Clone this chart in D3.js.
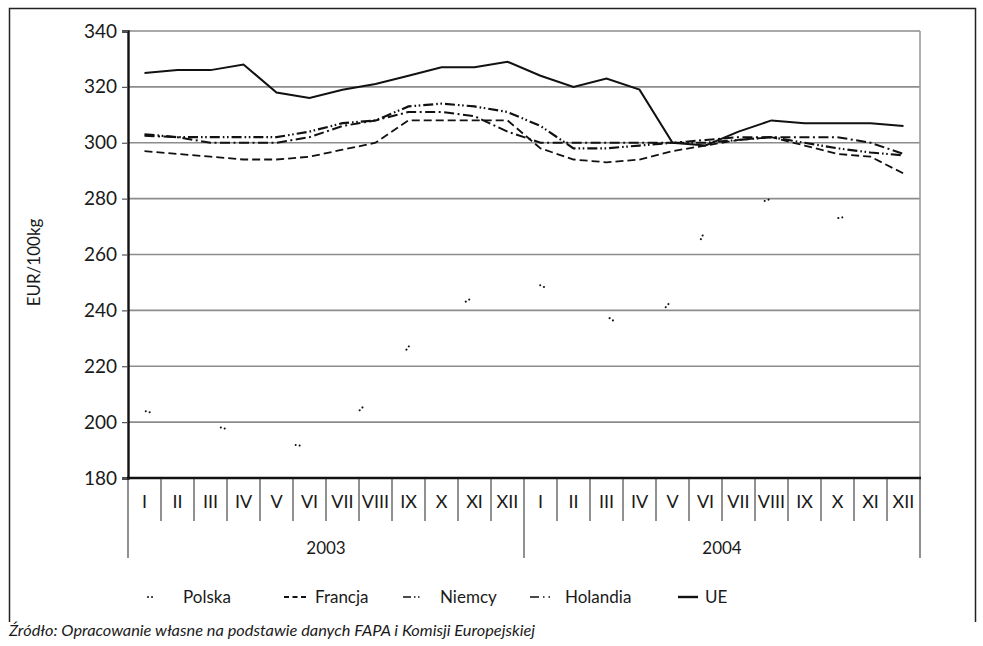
<!DOCTYPE html>
<html>
<head>
<meta charset="utf-8">
<script src="https://cdn.jsdelivr.net/npm/d3@7"></script>
<style>
  html, body { margin: 0; padding: 0; background: #fff; }
  svg { display: block; }
  text { font-family: Lato, "Open Sans", sans-serif; fill: #1a1a1a; }
</style>
</head>
<body>
<svg id="chart" width="983" height="646"></svg>
<script>
// Monthly pork prices, EUR/100kg, 2003-2004
const months = ["I","II","III","IV","V","VI","VII","VIII","IX","X","XI","XII"];
const years = ["2003", "2004"];
const yTicks = [180, 200, 220, 240, 260, 280, 300, 320, 340];

const polska   = [204, 201, 199, 196, 193, 191, 198, 210, 227, 238, 245, 247,
                  249, 243, 238, 230, 244, 269, 276, 280, 277, 273, 275, 275];
const francja  = [297, 296, 295, 294, 294, 295, 297.5, 300, 308, 308, 308, 308,
                  298, 294, 293, 294, 297, 299, 301, 302, 299, 296, 295, 289];
const niemcy   = [303, 302, 302, 302, 302, 304, 307, 308, 313, 314, 313, 311,
                  306, 298, 298, 299, 300, 300, 301, 302, 300, 298, 296.5, 295.5];
const holandia = [302.5, 302, 300, 300, 300, 302, 306, 308, 311, 311, 309.5, 304,
                  300, 300, 300, 300, 300, 301, 302, 302, 302, 302, 300, 296];
const ue       = [325, 326, 326, 328, 318, 316, 319, 321, 324, 327, 327, 329,
                  324, 320, 323, 319, 300, 299, 304, 308, 307, 307, 307, 306];

const series = [
  { name: "Polska",   values: polska,   dash: "0.01,4,0.01,72.84", offset: 75.55, width: 2, cap: "round" },
  { name: "Francja",  values: francja,  dash: "8,4",               offset: 0, width: 1.8, cap: "butt" },
  { name: "Niemcy",   values: niemcy,   dash: "10,3,1.6,2.6,1.6,3", offset: 0, width: 2.2, cap: "butt" },
  { name: "Holandia", values: holandia, dash: "10,3.5,2,3.5",      offset: 0, width: 2, cap: "butt" },
  { name: "UE",       values: ue,       dash: null,                offset: 0, width: 2, cap: "butt" }
];

(function draw() {
  const svg = d3.select("#chart");

  // outer frame
  svg.append("path")
    .attr("d", "M9.5,622 V8.5 H975.5 V622")
    .attr("fill", "none").attr("stroke", "#222").attr("stroke-width", 1.5);

  const pLeft = 128, pRight = 920, pTop = 31, pBottom = 478;
  const cats = d3.range(months.length * years.length);

  const x = d3.scaleBand().domain(cats).range([pLeft, pRight]).paddingInner(0).paddingOuter(0);
  const y = d3.scaleLinear().domain([180, 340]).range([pBottom, pTop]);
  const cx = i => x(i) + x.bandwidth() / 2;

  // horizontal gridlines
  svg.append("g")
    .selectAll("line")
    .data(yTicks.filter(v => v > 180))
    .join("line")
    .attr("x1", pLeft).attr("x2", pRight)
    .attr("y1", d => y(d)).attr("y2", d => y(d))
    .attr("stroke", "#8c8c8c").attr("stroke-width", 1.6);

  // plot area right edge
  svg.append("line")
    .attr("x1", pRight).attr("x2", pRight).attr("y1", pTop).attr("y2", pBottom)
    .attr("stroke", "#9a9a9a").attr("stroke-width", 1.6);

  // y axis
  const yAxis = svg.append("g")
    .attr("transform", `translate(${pLeft},0)`)
    .call(d3.axisLeft(y).tickValues(yTicks).tickSize(6).tickPadding(5).tickFormat(d3.format("d")));
  yAxis.select(".domain").attr("stroke", "#111").attr("stroke-width", 2.4);
  yAxis.selectAll(".tick line").attr("stroke", "#555").attr("stroke-width", 1.2);
  yAxis.selectAll(".tick text")
    .style("font-family", "Lato, sans-serif").style("font-size", "19px").attr("fill", "#1a1a1a");

  // y axis title
  svg.append("text")
    .attr("transform", `translate(40,${(pTop + pBottom) / 2 + 8}) rotate(-90)`)
    .attr("text-anchor", "middle")
    .style("font-size", "17px")
    .text("EUR/100kg");

  // x axis: month and year rows
  const monthRow = 43, yearRow = 80;
  const xg = svg.append("g");
  xg.append("line")
    .attr("x1", pLeft - 1).attr("x2", pRight + 1).attr("y1", pBottom).attr("y2", pBottom)
    .attr("stroke", "#111").attr("stroke-width", 2.6);

  const edge = i => i < cats.length ? x(i) : x(cats.length - 1) + x.bandwidth();
  xg.selectAll("line.sep")
    .data(d3.range(cats.length + 1))
    .join("line")
    .attr("class", "sep")
    .attr("x1", edge).attr("x2", edge)
    .attr("y1", pBottom)
    .attr("y2", i => pBottom + (i % 12 === 0 ? yearRow : monthRow))
    .attr("stroke", "#222").attr("stroke-width", 1);

  xg.selectAll("text.month")
    .data(cats)
    .join("text")
    .attr("class", "month")
    .attr("x", i => cx(i))
    .attr("y", pBottom + 30)
    .attr("text-anchor", "middle")
    .style("font-size", "18px")
    .text(i => months[i % 12]);

  xg.selectAll("text.year")
    .data(years)
    .join("text")
    .attr("class", "year")
    .attr("x", (d, k) => (edge(k * 12) + edge(k * 12 + 12)) / 2)
    .attr("y", pBottom + 76)
    .attr("text-anchor", "middle")
    .style("font-size", "17px")
    .text(d => d);

  // series lines
  const line = d3.line().x((d, i) => cx(i)).y(d => y(d));
  svg.append("g")
    .selectAll("path")
    .data(series)
    .join("path")
    .attr("d", s => line(s.values))
    .attr("fill", "none")
    .attr("stroke", "#111")
    .attr("stroke-width", s => s.width)
    .attr("stroke-linecap", s => s.cap)
    .attr("stroke-dasharray", s => s.dash)
    .attr("stroke-dashoffset", s => s.offset);

  // legend
  const legendItems = [
    { s: series[0], x0: 148, x1: 156, tx: 183, dash: "0.01,4", cap: "round", w: 2 },
    { s: series[1], x0: 284, x1: 308, tx: 315, dash: "5,3.5", cap: "butt", w: 2 },
    { s: series[2], x0: 403, x1: 428, tx: 440, dash: "8,3,1.5,2.5,1.5,10", cap: "butt", w: 1.6 },
    { s: series[3], x0: 530, x1: 557, tx: 565, dash: "9,4,1.5,4,1.5,10", cap: "butt", w: 1.6 },
    { s: series[4], x0: 678, x1: 698, tx: 705, dash: null, cap: "butt", w: 2.4 }
  ];
  const lg = svg.append("g");
  lg.selectAll("line")
    .data(legendItems)
    .join("line")
    .attr("x1", d => d.x0).attr("x2", d => d.x1)
    .attr("y1", 597).attr("y2", 597)
    .attr("stroke", "#111")
    .attr("stroke-width", d => d.w)
    .attr("stroke-linecap", d => d.cap)
    .attr("stroke-dasharray", d => d.dash);
  lg.selectAll("text")
    .data(legendItems)
    .join("text")
    .attr("x", d => d.tx).attr("y", 603)
    .style("font-size", "17px")
    .text(d => d.s.name);

  // source note
  svg.append("text")
    .attr("x", 9).attr("y", 636)
    .attr("textLength", 526).attr("lengthAdjust", "spacingAndGlyphs")
    .style("font-size", "15px").style("font-style", "italic")
    .text("Źródło: Opracowanie własne na podstawie danych FAPA i Komisji Europejskiej");
})();
</script>
</body>
</html>
